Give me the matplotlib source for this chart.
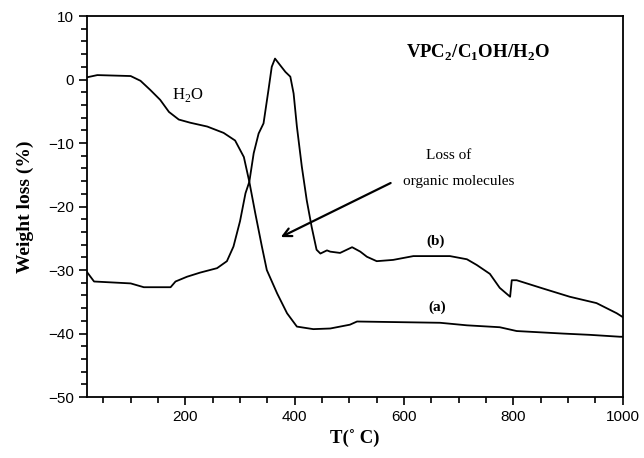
import matplotlib
matplotlib.use("Agg")
import matplotlib.pyplot as plt
from matplotlib.ticker import MultipleLocator

# curve (a): loss of water then organic molecules
temp_a = [20, 39, 100, 118, 136, 154, 170, 188, 209, 240, 270, 291, 307,
          317, 328, 340, 349, 368, 386, 404, 434, 465, 483, 501, 514, 666,
          715, 775, 806, 891, 940, 995, 1000]
wl_a = [0.35, 0.7, 0.55, -0.2, -1.65, -3.2, -5.1, -6.3, -6.8, -7.4, -8.4,
        -9.6, -12.2, -16.1, -21.1, -26.3, -30.0, -33.7, -36.8, -38.9, -39.3,
        -39.2, -38.9, -38.6, -38.1, -38.3, -38.7, -39.0, -39.6, -40.0,
        -40.2, -40.5, -40.5]

# curve (b)
temp_b = [20, 33, 100, 124, 173, 182, 203, 227, 258, 276, 288, 300, 310,
          317, 325, 334, 343, 352, 358, 364, 373, 383, 392, 398, 404, 413,
          422, 431, 440, 447, 459, 465, 483, 505, 520, 532, 550, 580, 617,
          684, 715, 733, 757, 775, 794, 797, 806, 854, 903, 952, 989, 1000]
wl_b = [-30.3, -31.8, -32.1, -32.7, -32.7, -31.8, -31.05, -30.4, -29.7,
        -28.6, -26.3, -22.3, -17.9, -16.1, -11.6, -8.5, -6.9, -1.65, 2.0,
        3.3, 2.3, 1.2, 0.45, -2.2, -7.4, -13.7, -19.0, -23.2, -26.8, -27.4,
        -26.9, -27.1, -27.3, -26.4, -27.1, -27.9, -28.6, -28.4, -27.8,
        -27.8, -28.3, -29.2, -30.6, -32.8, -34.2, -31.6, -31.6, -32.9,
        -34.2, -35.2, -36.8, -37.4]

serif = "Liberation Serif"
sans = "Liberation Sans"
plt.rcParams["mathtext.fontset"] = "custom"
plt.rcParams["mathtext.rm"] = serif
plt.rcParams["mathtext.bf"] = serif + ":bold"

fig = plt.figure(figsize=(6.44, 4.58), dpi=100)
ax = fig.add_axes([0.135, 0.133, 0.832, 0.832])

ax.plot(temp_a, wl_a, color="black", lw=1.3)
ax.plot(temp_b, wl_b, color="black", lw=1.3)

ax.set_xlim(20, 1000)
ax.set_ylim(-50, 10)
ax.xaxis.set_major_locator(MultipleLocator(200))
ax.xaxis.set_minor_locator(MultipleLocator(50))
ax.yaxis.set_major_locator(MultipleLocator(10))
ax.yaxis.set_minor_locator(MultipleLocator(2))
ax.tick_params(which="major", length=6, width=1.2, labelsize=11)
ax.tick_params(which="minor", length=4, width=1.2)
for lbl in ax.get_xticklabels() + ax.get_yticklabels():
    lbl.set_fontfamily(sans)
for s in ax.spines.values():
    s.set_linewidth(1.3)

ax.set_xlabel("T(\u02da C)", fontfamily=serif, fontweight="bold", fontsize=13.5)
ax.set_ylabel("Weight loss (%)", fontfamily=serif, fontweight="bold",
              fontsize=14, labelpad=10)

ax.text(205, -2.4, r"H$_2$O", fontfamily=serif, fontsize=12,
        ha="center", va="center")
ax.text(735, 4.2, r"VPC$_\mathbf{2}$/C$_\mathbf{1}$OH/H$_\mathbf{2}$O",
        fontfamily=serif, fontweight="bold", fontsize=13.5, ha="center",
        va="center")
ax.text(641, -11.9, "Loss of", fontfamily=serif, fontsize=11, va="center")
ax.text(598, -16.1, "organic molecules", fontfamily=serif, fontsize=11,
        va="center")
ax.annotate("", xy=(370, -25.0), xytext=(580, -16.1),
            arrowprops=dict(arrowstyle="->,head_length=0.6,head_width=0.3",
                            color="black", lw=1.6))
ax.text(657, -25.5, "(b)", fontfamily=serif, fontweight="bold", fontsize=11,
        ha="center", va="center")
ax.text(661, -35.8, "(a)", fontfamily=serif, fontweight="bold", fontsize=11,
        ha="center", va="center")

fig.savefig("out.png", dpi=100)
